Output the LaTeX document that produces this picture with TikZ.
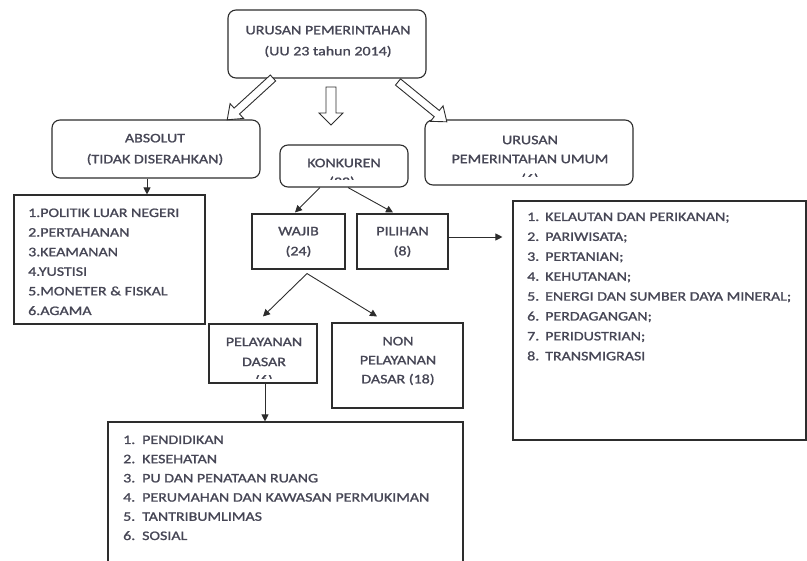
\documentclass[tikz,border=0pt]{standalone}
\usepackage{fontspec}
\setmainfont{Carlito}[FakeStretch=1.225,FakeBold=1.3]
\usetikzlibrary{arrows.meta,calc}
\definecolor{txt}{RGB}{70,70,85}
\definecolor{ln}{RGB}{45,45,45}
\begin{document}
\begin{tikzpicture}[x=1pt,y=-1pt,
  rbox/.style={draw=ln,line width=1.1pt,rounded corners=8pt,inner sep=0pt},
  sbox/.style={draw=ln,line width=1.1pt,inner sep=0pt},
  lbl/.style={text=txt,align=center,inner sep=0pt},
  lst/.style={text=txt,anchor=base west,inner sep=0pt},
  arr/.style={draw=ln,line width=0.9pt,-{Triangle[length=7pt,width=7pt]}},
  hol/.style={draw=ln,line width=0.9pt,fill=white,line join=miter}]
\useasboundingbox (0,0) rectangle (807,561);

% boxes
\node[rbox,minimum width=198pt,minimum height=68pt] (top) at (327,44) {};
\node[rbox,minimum width=208pt,minimum height=58pt] (absolut) at (156,149) {};
\node[rbox,minimum width=128pt,minimum height=42pt] (konkuren) at (344,166) {};
\node[rbox,minimum width=208pt,minimum height=65pt] (umum) at (529,152.5) {};
\node[sbox,minimum width=191pt,minimum height=129pt] (abslist) at (109.5,259.5) {};
\node[sbox,minimum width=93pt,minimum height=55pt] (wajib) at (298.5,241.5) {};
\node[sbox,minimum width=91pt,minimum height=55pt] (pilihan) at (402.5,241.5) {};
\node[sbox,minimum width=293pt,minimum height=239pt] (pillist) at (659.5,320.5) {};
\node[sbox,minimum width=108pt,minimum height=59pt] (pel) at (263,353.5) {};
\node[sbox,minimum width=131pt,minimum height=85pt] (nonpel) at (397.5,365.5) {};
\node[sbox,minimum width=355pt,minimum height=142pt] (pellist) at (285.5,493) {};

% box texts
\node[lbl,font=\fontsize{13}{21}\selectfont] (toptext) at (328,41.5) {URUSAN PEMERINTAHAN\\(UU 23 tahun 2014)};
\node[lbl,font=\fontsize{13}{21}\selectfont] (abstext) at (155,149.5) {ABSOLUT\\(TIDAK DISERAHKAN)};
\node[lbl,font=\fontsize{13}{19}\selectfont] (konktext) at (344,163) {KONKUREN};
\node[lbl,font=\fontsize{13}{19}\selectfont] (umumtext) at (530,149.5) {URUSAN\\PEMERINTAHAN UMUM};
\node[lbl,font=\fontsize{13}{20}\selectfont] (wajibtext) at (298.5,242) {WAJIB\\(24)};
\node[lbl,font=\fontsize{13}{20}\selectfont] (piltext) at (402.5,242) {PILIHAN\\(8)};
\node[lbl,font=\fontsize{13}{20}\selectfont] (peltext) at (264,352) {PELAYANAN\\DASAR};
\node[lbl,font=\fontsize{13}{19}\selectfont] (nonpeltext) at (398,361) {NON\\PELAYANAN\\DASAR (18)};

% clipped remains of texts
\begin{scope}
\clip (325,177) rectangle (362,180);
\node[text=txt,anchor=base,inner sep=0pt,font=\fontsize{13}{16}\selectfont] (konkcut) at (342,186) {(32)};
\end{scope}
\begin{scope}
\clip (515,174) rectangle (545,177);
\node[text=txt,anchor=base,inner sep=0pt,font=\fontsize{13}{16}\selectfont] (umumcut) at (530,183) {(6)};
\end{scope}
\begin{scope}
\clip (250,376) rectangle (280,379);
\node[text=txt,anchor=base,inner sep=0pt,font=\fontsize{13}{16}\selectfont] (pelcut) at (264,384) {(6)};
\end{scope}

% lists
\node[lst] (abslisttext) at (28,217) {\fontsize{13}{19.6}\selectfont\begin{tabular}[t]{@{}l@{}}
1.POLITIK LUAR NEGERI\\
2.PERTAHANAN\\
3.KEAMANAN\\
4.YUSTISI\\
5.MONETER \& FISKAL\\
6.AGAMA
\end{tabular}};
\node[lst] (pillisttext) at (527,221) {\fontsize{13}{19.9}\selectfont\begin{tabular}[t]{@{}l@{}}
\makebox[18pt][l]{1.}KELAUTAN DAN PERIKANAN;\\
\makebox[18pt][l]{2.}PARIWISATA;\\
\makebox[18pt][l]{3.}PERTANIAN;\\
\makebox[18pt][l]{4.}KEHUTANAN;\\
\makebox[18pt][l]{5.}ENERGI DAN SUMBER DAYA MINERAL;\\
\makebox[18pt][l]{6.}PERDAGANGAN;\\
\makebox[18pt][l]{7.}PERIDUSTRIAN;\\
\makebox[18pt][l]{8.}TRANSMIGRASI
\end{tabular}};
\node[lst] (pellisttext) at (123,444) {\fontsize{13}{19.2}\selectfont\begin{tabular}[t]{@{}l@{}}
\makebox[19pt][l]{1.}PENDIDIKAN\\
\makebox[19pt][l]{2.}KESEHATAN\\
\makebox[19pt][l]{3.}PU DAN PENATAAN RUANG\\
\makebox[19pt][l]{4.}PERUMAHAN DAN KAWASAN PERMUKIMAN\\
\makebox[19pt][l]{5.}TANTRIBUMLIMAS\\
\makebox[19pt][l]{6.}SOSIAL
\end{tabular}};

% hollow arrows from top box
\begin{scope}[shift={(273,78)},rotate=222.4]
\draw[hol] (0,4) -- (49,4) -- (49,10) -- (62,0) -- (49,-10) -- (49,-4) -- (0,-4) -- cycle;
\end{scope}
\begin{scope}[shift={(331,87)},rotate=-90]
\draw[hol] (0,5) -- (26,5) -- (26,12) -- (38,0) -- (26,-12) -- (26,-5) -- (0,-5) -- cycle;
\end{scope}
\begin{scope}[shift={(398,82)},rotate=-39.2]
\draw[hol] (0,4) -- (50,4) -- (50,10) -- (63,0) -- (50,-10) -- (50,-4) -- (0,-4) -- cycle;
\end{scope}

% connectors
\draw[arr] ([xshift=-9pt]absolut.south) -- ([xshift=-9pt]absolut.south |- abslist.north);
\draw[arr] ([xshift=-24pt]konkuren.south) -- ([xshift=-3.5pt,yshift=1pt]wajib.north);
\draw[arr] ([xshift=4pt]konkuren.south) -- ([xshift=-9.5pt,yshift=1pt]pilihan.north);
\draw[arr] ([yshift=4.5pt]pilihan.east) -- ([yshift=4.5pt,xshift=-10pt]pilihan.east -| pillist.west);
\draw[arr] ([xshift=8.5pt,yshift=-4pt]wajib.south) -- ([yshift=7pt]pel.north);
\draw[arr] ([xshift=8.5pt,yshift=-4pt]wajib.south) -- ([xshift=-20.5pt,yshift=6pt]nonpel.north);
\draw[arr] ([xshift=2pt]pel.south) -- ([xshift=2pt]pel.south |- pellist.north);
\end{tikzpicture}
\end{document}
